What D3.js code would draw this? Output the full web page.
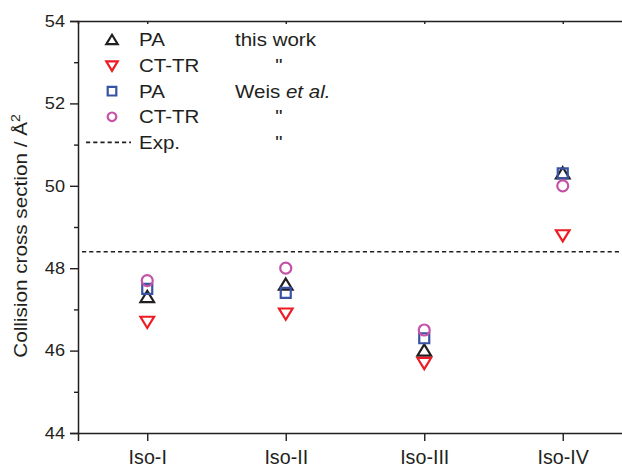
<!DOCTYPE html>
<html>
<head>
<meta charset="utf-8">
<script src="https://cdn.jsdelivr.net/npm/d3@7"></script>
<style>
  body { margin: 0; background: #fff; }
  svg { display: block; font-family: "Liberation Sans", Arial, sans-serif; }
</style>
</head>
<body>
<div id="chart"></div>
<script>
// isomers on the x axis
const isomers = ['Iso-I', 'Iso-II', 'Iso-III', 'Iso-IV'];

// collision cross sections (Å²)
const paThisWork = [47.3, 47.6, 46.0, 50.3];
const cttrThisWork = [46.7, 46.9, 45.7, 48.8];
const paWeis = [47.5, 47.4, 46.3, 50.3];
const cttrWeis = [47.7, 48.0, 46.5, 50.0];
const expValue = 48.4;

const yTicks = [44, 46, 48, 50, 52, 54];
const yMinorTicks = [45, 47, 49, 51, 53];

const series = [
  { name: 'PA', values: paThisWork, shape: 'triUp', color: '#231f20' },
  { name: 'CT-TR', values: cttrThisWork, shape: 'triDown', color: '#ed1c24' },
  { name: 'PA', values: paWeis, shape: 'square', color: '#3953a4' },
  { name: 'CT-TR', values: cttrWeis, shape: 'circle', color: '#c452a6' }
];

const width = 622, height = 467;
const margin = { top: 21, right: -10, bottom: 34, left: 78 };
const ink = '#231f20';

const svg = d3.select('#chart').append('svg')
  .attr('width', width)
  .attr('height', height);

const x = d3.scaleLinear()
  .domain([0.5, 4.5])
  .range([margin.left, width - margin.right]);

const y = d3.scaleLinear()
  .domain([44, 54])
  .range([height - margin.bottom, margin.top]);

// marker path generators, centred on 0,0
function markerPath(shape, s) {
  if (shape === 'triUp') return `M0,${-s * 0.62}L${s * 0.68},${s * 0.5}L${-s * 0.68},${s * 0.5}Z`;
  if (shape === 'triDown') return `M0,${s * 0.62}L${s * 0.68},${-s * 0.5}L${-s * 0.68},${-s * 0.5}Z`;
  if (shape === 'square') return `M${-s / 2},${-s / 2}h${s}v${s}h${-s}Z`;
  const r = s / 2;
  return `M${r},0A${r},${r} 0 1,1 ${-r},0A${r},${r} 0 1,1 ${r},0Z`;
}

// the original font is a bit wider than Liberation Sans, so stretch text sideways
function label(parent, px, py, size, sx) {
  return parent.append('text')
    .attr('transform', `translate(${px},${py}) scale(${sx},1)`)
    .attr('fill', ink)
    .style('font-size', size + 'px');
}

// experimental value (dashed)
svg.append('line')
  .attr('x1', margin.left + 4)
  .attr('x2', width)
  .attr('y1', y(expValue))
  .attr('y2', y(expValue))
  .attr('stroke', ink)
  .attr('stroke-width', 1.6)
  .attr('stroke-dasharray', '4.2,3');

// data points
series.forEach(s => {
  const size = s.shape === 'circle' ? 11 : 10;
  svg.append('g')
    .selectAll('path')
    .data(s.values)
    .join('path')
    .attr('transform', (d, i) => `translate(${x(i + 1)},${y(d)})`)
    .attr('d', markerPath(s.shape, size))
    .attr('fill', 'none')
    .attr('stroke', s.color)
    .attr('stroke-width', 2.2);
});

// axes
const yAxis = svg.append('g')
  .attr('transform', `translate(${margin.left},0)`)
  .call(d3.axisLeft(y).tickValues(yTicks).tickSize(8).tickPadding(5).tickFormat(d3.format('d')));

yAxis.selectAll('.tick text')
  .attr('x', -11.8)
  .attr('transform', 'scale(1.1,1)')
  .style('font-size', '16.5px');

svg.append('g')
  .attr('transform', `translate(${margin.left},0)`)
  .call(d3.axisLeft(y).tickValues(yMinorTicks).tickSize(4).tickFormat(''))
  .call(g => g.select('.domain').remove());

const xAxis = svg.append('g')
  .attr('transform', `translate(0,${height - margin.bottom})`)
  .call(d3.axisBottom(x).tickValues([1, 2, 3, 4]).tickSize(8).tickPadding(0)
    .tickFormat(d => isomers[d - 1]));

xAxis.selectAll('.tick text')
  .attr('y', 31)
  .attr('dy', null)
  .attr('transform', 'scale(0.96,1)')
  .style('font-size', '20.5px');

svg.append('g')
  .attr('transform', `translate(0,${margin.top})`)
  .call(d3.axisBottom(x).tickValues([1, 2, 3, 4]).tickSize(3).tickFormat(''));

svg.selectAll('.domain').attr('stroke', ink).attr('stroke-width', 1.5);
svg.selectAll('.tick line').attr('stroke', ink).attr('stroke-width', 1.4);
svg.selectAll('.tick text').attr('fill', ink);

// y axis title with a real superscript
svg.append('text')
  .attr('transform', `translate(27,236) rotate(-90) scale(1.17,1)`)
  .attr('text-anchor', 'middle')
  .attr('fill', ink)
  .style('font-size', '17.7px')
  .call(t => {
    t.append('tspan').text('Collision cross section / Å');
    t.append('tspan').attr('dy', -7).style('font-size', '12px').text('2');
  });

// legend
const legend = svg.append('g');
const rowY = i => 40 + i * 25.6;
const legendSize = 17.7, legendStretch = 1.16;

series.forEach((s, i) => {
  const size = s.shape === 'triUp' || s.shape === 'triDown' ? 8.4 : 8.6;
  legend.append('path')
    .attr('transform', `translate(112,${rowY(i)})`)
    .attr('d', markerPath(s.shape, size))
    .attr('fill', 'none')
    .attr('stroke', s.color)
    .attr('stroke-width', 2.2);

  label(legend, 139, rowY(i), legendSize, legendStretch)
    .attr('dy', '0.36em')
    .text(s.name);
});

legend.append('line')
  .attr('x1', 86).attr('x2', 131)
  .attr('y1', rowY(4)).attr('y2', rowY(4))
  .attr('stroke', ink)
  .attr('stroke-width', 1.6)
  .attr('stroke-dasharray', '4.2,3');

label(legend, 139, rowY(4), legendSize, legendStretch)
  .attr('dy', '0.36em')
  .text('Exp.');

// source column
label(legend, 235, rowY(0), legendSize, legendStretch)
  .attr('dy', '0.36em')
  .text('this work');

label(legend, 235, rowY(2), legendSize, legendStretch)
  .attr('dy', '0.36em')
  .call(t => {
    t.append('tspan').text('Weis ');
    t.append('tspan').style('font-style', 'italic').text('et al.');
  });

[1, 3, 4].forEach(i => {
  label(legend, 279, rowY(i), legendSize, legendStretch)
    .attr('dy', '0.36em')
    .attr('text-anchor', 'middle')
    .text('"');
});
</script>
</body>
</html>
